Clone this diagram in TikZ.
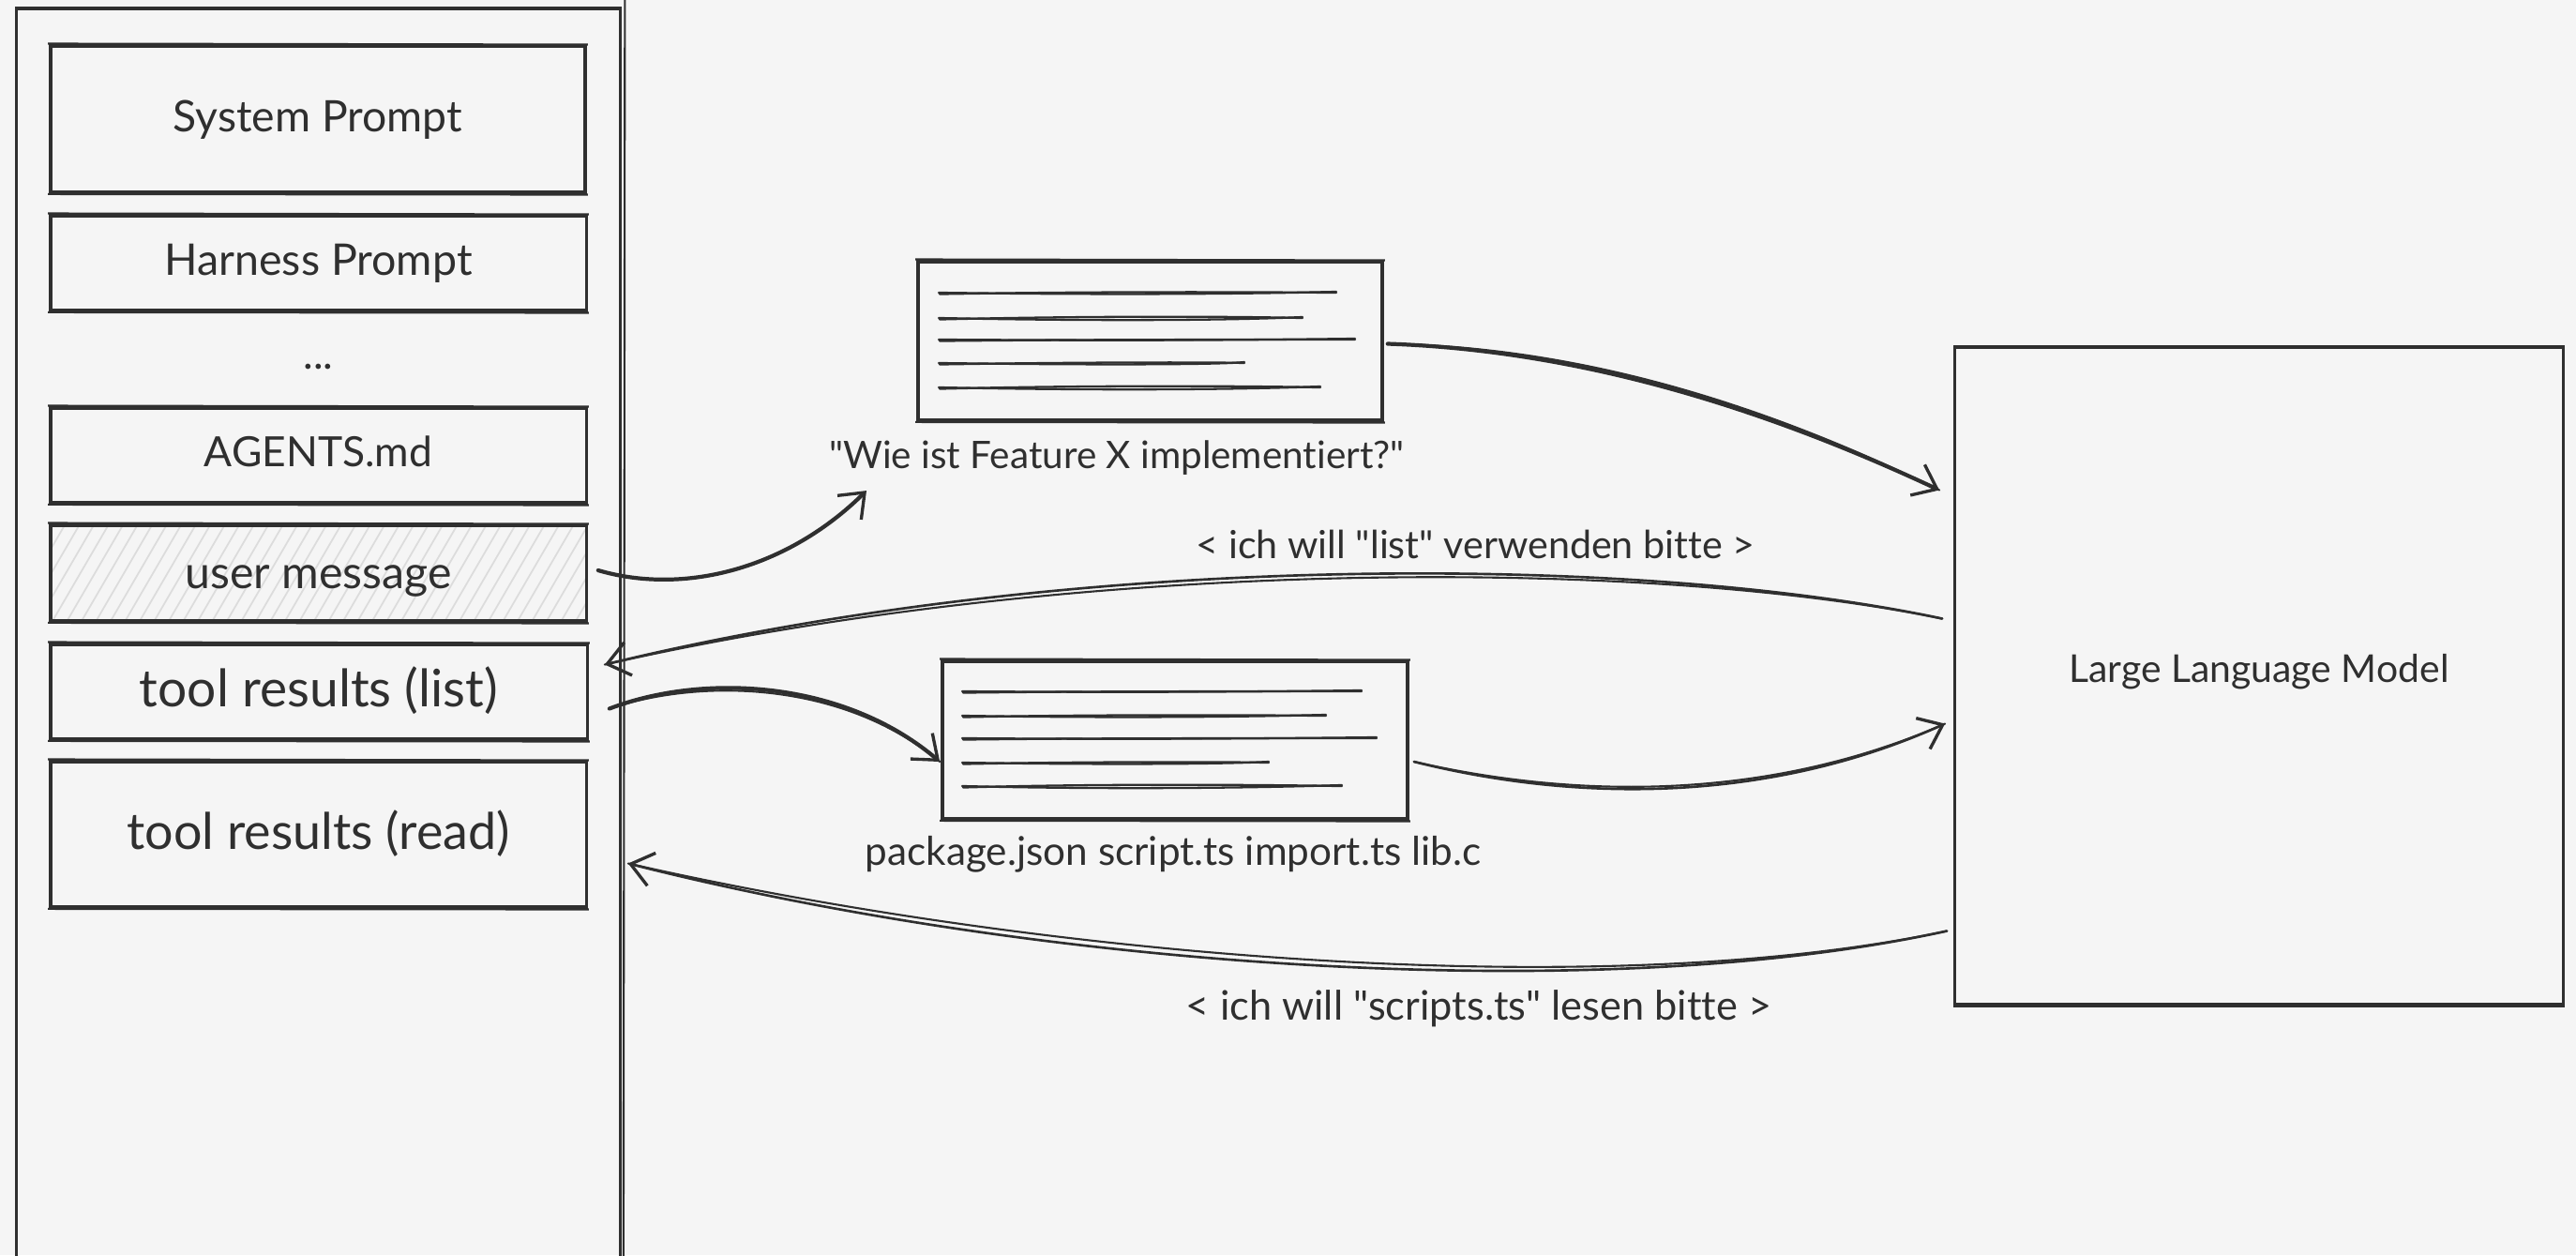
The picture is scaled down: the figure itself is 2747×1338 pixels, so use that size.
\documentclass[tikz,border=0pt]{standalone}
\usepackage{graphicx}
\usepackage{fontspec}
\setmainfont[Ligatures={TeXOff,CommonOff}]{Lato}
\usetikzlibrary{arrows.meta}
\definecolor{ink}{HTML}{2F2F2F}
\definecolor{paper}{HTML}{F5F5F5}
\definecolor{hach}{HTML}{DCDCDC}
\newcommand\fit[2]{\resizebox{#1}{!}{#2}}
\newcommand\rough[1]{\draw[stroke2] ([shift={(-1,-0.8)}]#1.north west) -- ([shift={(1,0.2)}]#1.north east);
\draw[stroke2] ([shift={(1,0.8)}]#1.south east) -- ([shift={(-1,0.2)}]#1.south west);}
\tikzset{
  px/.style={x=0.01cm,y=-0.01cm},
  box/.style={draw=ink,line width=0.95pt,inner sep=0pt,rectangle,text=ink,anchor=center},
  stroke2/.style={draw=ink,line width=0.6pt},
  lbl/.style={text=ink,inner sep=0pt,anchor=center},
  conn/.style={draw=ink,line width=1.2pt,line cap=round},
  conn2/.style={draw=ink,line width=0.6pt,line cap=round},
  tip/.style={-{Straight Barb[length=2.3mm,width=3.6mm,line width=0.95pt]}},
  tline/.style={draw=ink,line width=0.65pt,line cap=round},
}
\begin{document}
\begin{tikzpicture}[px]
\useasboundingbox (0,0) rectangle (2747,1338);
\fill[paper] (0,0) rectangle (2747,1338);
% outer column
\node[box,minimum width=6.43cm,minimum height=13.36cm] (ctx) at (339.5,678) {};
\draw[stroke2] ([shift={(3.5,-8)}]ctx.north east) -- ([shift={(2,0)}]ctx.south east);
\draw[stroke2] (ctx.north west) -- (ctx.north east);
% stacked boxes
\node[box,minimum width=5.70cm,minimum height=1.56cm] (sys) at (339,127) {};
\node[lbl] (syst) at (339,128) {\fit{3.08cm}{System Prompt}};
\node[box,minimum width=5.71cm,minimum height=1.01cm] (har) at (339.5,280.5) {};
\node[lbl] (hart) at (339.5,281) {\fit{3.28cm}{Harness Prompt}};
\node[lbl] (dots) at (339.5,391) {\fit{0.32cm}{...}};
\node[box,minimum width=5.71cm,minimum height=1.01cm] (age) at (339.5,485.5) {};
\node[lbl] (aget) at (339.5,481) {\fit{2.43cm}{AGENTS.md}};
% hatching
\begin{scope}
\clip (54,559) rectangle (625,662);
\foreach \i in {0,...,42} {
  \draw[hach,line width=0.5pt] ({54+\i*15.5-60},662) -- ({54+\i*15.5},559);
}
\end{scope}
\node[box,minimum width=5.71cm,minimum height=1.02cm] (usr) at (339.5,611) {};
\node[lbl] (usrt) at (339.5,619) {\fit{2.84cm}{user message}};
\node[box,minimum width=5.72cm,minimum height=1.01cm] (tl) at (340,737.5) {};
\node[lbl] (tlt) at (340,736) {\fit{3.82cm}{tool results (list)}};
\node[box,minimum width=5.71cm,minimum height=1.55cm] (tr) at (339.5,889.5) {};
\node[lbl] (trt) at (339.5,889) {\fit{4.08cm}{tool results (read)}};
\rough{sys}\rough{har}\rough{age}\rough{usr}\rough{tl}\rough{tr}
% document 1
\node[box,minimum width=4.95cm,minimum height=1.69cm] (doca) at (1226.5,363.5) {};
\rough{doca}
\foreach \xe/\yy/\b in {1425/312/2,1389/339/3,1445/362/1,1327/387/2,1408/413/3}{
  \draw[tline] (1001,\yy) .. controls (1150,{\yy+\b}) and (1300,{\yy+\b}) .. (\xe,{\yy-1});
  \draw[tline] (1002,{\yy+1.5}) .. controls (1150,{\yy-\b+1}) and (1300,{\yy-\b+1}) .. (\xe,\yy);
}
\node[lbl] (qa) at (1191,488) {\fit{6.13cm}{"Wie ist Feature X implementiert?"}};
% document 2
\node[box,minimum width=4.96cm,minimum height=1.68cm] (docb) at (1253,789) {};
\rough{docb}
\foreach \xe/\yy/\b in {1452/737/1,1414/763/2,1468/787/1,1353/813/2,1431/838/3}{
  \draw[tline] (1026,\yy) .. controls (1150,{\yy+\b}) and (1300,{\yy+\b}) .. (\xe,{\yy-1});
  \draw[tline] (1027,{\yy+1.5}) .. controls (1150,{\yy-\b+1}) and (1300,{\yy-\b+1}) .. (\xe,\yy);
}
\node[lbl] (qb) at (1251,911) {\fit{6.56cm}{package.json script.ts import.ts lib.c}};
% LLM
\node[box,minimum width=6.48cm,minimum height=6.99cm] (llm) at (2409,720.5) {};
\node[lbl] (llmt) at (2409,716) {\fit{4.05cm}{Large Language Model}};
\draw[stroke2] (llm.north west) -- (llm.north east);
\draw[stroke2] ([shift={(0,1)}]llm.south west) -- ([shift={(0,1)}]llm.south east);
% labels
\node[lbl] (la) at (1573.5,580) {\fit{5.95cm}{< ich will "list" verwenden bitte >}};
\node[lbl] (lb) at (1577,1075) {\fit{6.24cm}{< ich will "scripts.ts" lesen bitte >}};
% connector ends
\coordinate (a0) at ([shift={(11,-3)}]usr.east);
\coordinate (a1) at ([shift={(-267,16)}]qa.south);
\coordinate (b0) at ([shift={(4,3)}]doca.east);
\coordinate (b1) at ([shift={(-15,-198)}]llm.west);
\coordinate (c0) at ([shift={(-12,-61)}]llm.west);
\coordinate (c1) at ([shift={(17,-29)}]tl.east);
\coordinate (d0) at ([shift={(22,18)}]tl.east);
\coordinate (d1) at ([shift={(-1,23)}]docb.west);
\coordinate (e0) at ([shift={(5,23)}]docb.east);
\coordinate (e1) at ([shift={(-9,51)}]llm.west);
\coordinate (f0) at ([shift={(-7,272)}]llm.west);
\coordinate (f1) at ([shift={(43,31)}]tr.east);
% connectors
\draw[conn,tip] (a0) .. controls (730,635) and (840,606) .. (a1);
\draw[conn2] (b0) .. controls (1700,370) and (1900,440) .. (b1);
\draw[conn,tip] (b0) .. controls (1700,374) and (1900,444) .. (b1);
\draw[conn,line width=0.75pt,tip] (c0) .. controls (1750,591) and (1150,586) .. (c1);
\draw[conn2] (c0) .. controls (1750,594) and (1150,594) .. (c1);
\draw[conn,tip] (d0) .. controls (750,717) and (900,725) .. (d1);
\draw[conn2] (d0) .. controls (750,722) and (900,727) .. (d1);
\draw[conn,line width=0.75pt,tip] (e0) .. controls (1700,860) and (1900,850) .. (e1);
\draw[conn2] (e0) .. controls (1700,856) and (1900,848) .. (e1);
\draw[conn,line width=0.75pt,tip] (f0) .. controls (1700,1075) and (1100,1030) .. (f1);
\draw[conn2] (f0) .. controls (1700,1072) and (1100,1018) .. (f1);
\end{tikzpicture}
\end{document}
